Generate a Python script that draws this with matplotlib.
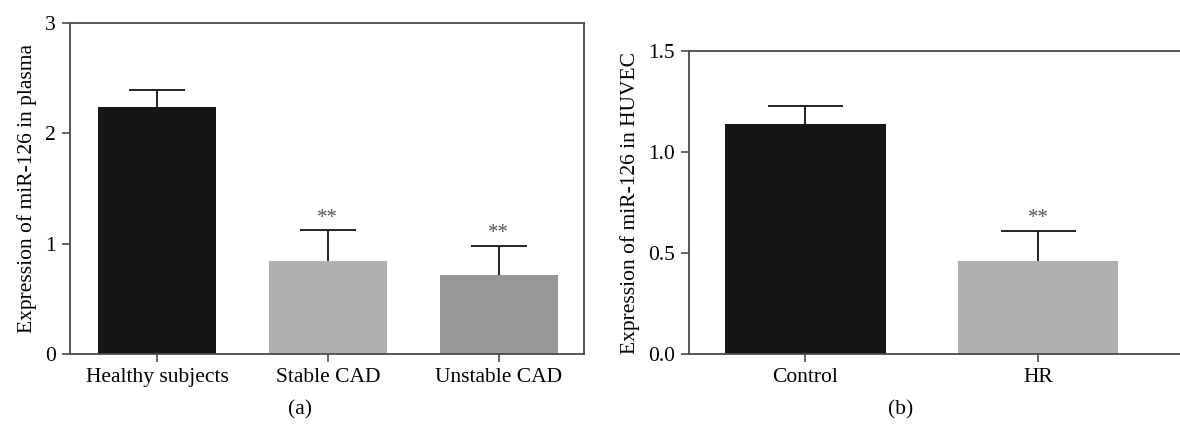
import matplotlib
matplotlib.use("Agg")
import matplotlib.pyplot as plt
import numpy as np

plt.rcParams['font.family'] = ['Liberation Serif', 'DejaVu Serif']

# panel (a)
groups_a = ["Healthy subjects", "Stable CAD", "Unstable CAD"]
means_a = [2.24, 0.84, 0.72]
errs_a = [0.15, 0.28, 0.26]
stars_a = ["", "**", "**"]
colors_a = ["#161616", "#b0b0b0", "#989898"]

# panel (b)
groups_b = ["Control", "HR"]
means_b = [1.14, 0.46]
errs_b = [0.09, 0.15]
stars_b = ["", "**"]
colors_b = ["#161616", "#b0b0b0"]

SPINE = "#4a4a4a"
FS = 15.5


def style_axes(ax):
    for s in ax.spines.values():
        s.set_color(SPINE)
        s.set_linewidth(1.3)
    ax.tick_params(direction="out", length=6, width=1.2, color=SPINE,
                   labelsize=FS, pad=4)


def draw_panel(ax, groups, means, errs, stars, colors, capsize, star_off):
    x = np.arange(len(groups))
    ax.bar(x, means, width=0.69, color=colors, zorder=2)
    _, caps, _ = ax.errorbar(x, means, yerr=[np.zeros(len(errs)), errs],
                             fmt="none", ecolor="#111111", elinewidth=1.3,
                             capsize=capsize, capthick=1.3, zorder=3)
    # only the upper cap is drawn in the original
    caps[0].set_visible(False)
    for xi, m, e, s in zip(x, means, errs, stars):
        if s:
            ax.text(xi, m + e + star_off, s, ha="center", va="center",
                    fontsize=15, color="#555555")
    ax.set_xticks(x)
    ax.set_xticklabels(groups)
    style_axes(ax)


fig = plt.figure(figsize=(11.8, 4.28), dpi=100)

ax1 = fig.add_axes([70 / 1180, 1 - 354 / 428, (584 - 70) / 1180, (354 - 23) / 428])
draw_panel(ax1, groups_a, means_a, errs_a, stars_a, colors_a, 20.5, 0.11)
ax1.set_xlim(-0.51, 2.5)
ax1.set_ylim(0, 3)
ax1.set_yticks([0, 1, 2, 3])
ax1.set_ylabel("Expression of miR-126 in plasma", fontsize=FS, labelpad=6)

ax2 = fig.add_axes([689 / 1180, 1 - 354 / 428, (1180 - 689) / 1180, (354 - 51) / 428])
draw_panel(ax2, groups_b, means_b, errs_b, stars_b, colors_b, 27, 0.06)
ax2.set_xlim(-0.5, 1.61)
ax2.set_ylim(0, 1.5)
ax2.set_yticks([0, 0.5, 1.0, 1.5])
ax2.set_yticklabels(["0.0", "0.5", "1.0", "1.5"])
ax2.spines["right"].set_visible(False)
ax2.set_ylabel("Expression of miR-126 in HUVEC", fontsize=FS, labelpad=6)

fig.text(300 / 1180, 1 - 410 / 428, "(a)", ha="center", va="center", fontsize=FS)
fig.text(901 / 1180, 1 - 410 / 428, "(b)", ha="center", va="center", fontsize=FS)

fig.savefig("out.png", dpi=100)
